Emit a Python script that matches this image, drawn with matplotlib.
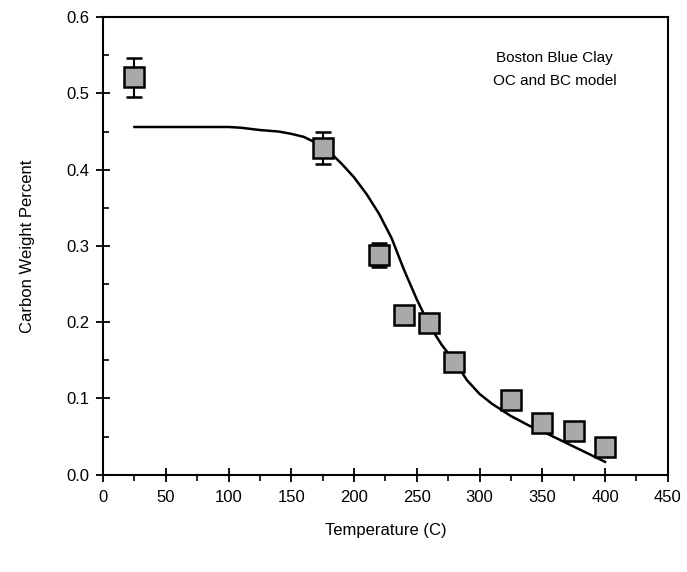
import matplotlib.pyplot as plt
from matplotlib.ticker import MultipleLocator

plt.rcParams['font.family'] = ['Liberation Sans', 'DejaVu Sans']

# measured points
temp = [25, 175, 220, 240, 260, 280, 325, 350, 375, 400]
carbon = [0.521, 0.429, 0.288, 0.210, 0.199, 0.148, 0.098, 0.068, 0.058, 0.036]
err = [0.026, 0.021, 0.016, 0, 0, 0, 0, 0, 0, 0]

# model curve
model_t = [25, 50, 75, 100, 110, 125, 140, 150, 160, 170, 180, 190, 200, 210, 220,
           230, 240, 250, 260, 270, 280, 290, 300, 310, 325, 340, 350, 360, 375, 390, 400]
model_c = [0.456, 0.456, 0.456, 0.456, 0.455, 0.452, 0.450, 0.447, 0.443, 0.435, 0.424,
           0.408, 0.390, 0.368, 0.342, 0.310, 0.268, 0.230, 0.196, 0.170, 0.149, 0.124,
           0.106, 0.093, 0.077, 0.064, 0.057, 0.049, 0.037, 0.025, 0.017]

fig = plt.figure(figsize=(6.87, 5.72), dpi=100)
ax = fig.add_axes([0.150, 0.170, 0.822, 0.800])

ax.plot(model_t, model_c, color='black', lw=1.8, zorder=2)
ax.errorbar(temp, carbon, yerr=err, fmt='s', ms=14, mfc='#a9a9a9', mec='black',
            mew=1.8, ecolor='black', elinewidth=1.5, capsize=6, capthick=1.5, zorder=3)

ax.set_xlim(0, 450)
ax.set_ylim(0, 0.6)
ax.xaxis.set_major_locator(MultipleLocator(50))
ax.xaxis.set_minor_locator(MultipleLocator(25))
ax.yaxis.set_major_locator(MultipleLocator(0.1))
ax.yaxis.set_minor_locator(MultipleLocator(0.05))
ax.yaxis.set_major_formatter(plt.FormatStrFormatter('%.1f'))

ax.tick_params(which='major', direction='inout', length=10, width=1.3, labelsize=12)
ax.tick_params(axis='x', which='minor', direction='out', length=4, width=1.2)
ax.tick_params(axis='y', which='minor', direction='in', length=4, width=1.2)
ax.tick_params(axis='x', pad=6)
ax.tick_params(axis='y', pad=5)
for s in ax.spines.values():
    s.set_linewidth(1.5)

ax.set_xlabel('Temperature (C)', fontsize=12, labelpad=13)
ax.set_ylabel('Carbon Weight Percent', fontsize=12, labelpad=22)

ax.text(0.80, 0.885, 'Boston Blue Clay\nOC and BC model', transform=ax.transAxes,
        ha='center', va='center', fontsize=11, linespacing=1.85)

plt.savefig('out.png', dpi=100)
